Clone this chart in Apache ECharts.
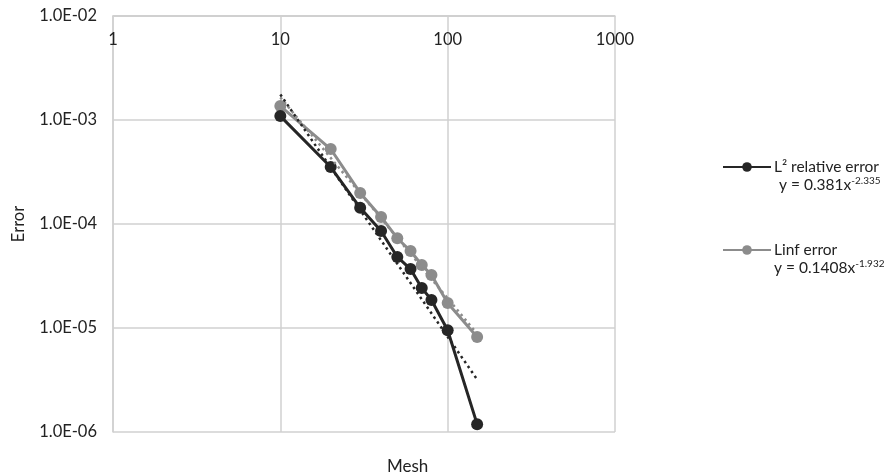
<!DOCTYPE html>
<html>
<head>
<meta charset="utf-8">
<script src="https://cdn.jsdelivr.net/npm/echarts@6/dist/echarts.min.js"></script>
<style>
html,body{margin:0;padding:0;background:#fff;}
#chart{width:893px;height:475px;}
</style>
</head>
<body>
<div id="chart"></div>
<script>
// Data
const meshValues = [10, 20, 30, 40, 50, 60, 70, 80, 100, 150];
const l2Error = [1.09e-3, 3.53e-4, 1.43e-4, 8.57e-5, 4.82e-5, 3.69e-5, 2.43e-5, 1.86e-5, 9.5e-6, 1.19e-6];
const linfError = [1.36e-3, 5.26e-4, 1.99e-4, 1.17e-4, 7.3e-5, 5.5e-5, 4.03e-5, 3.24e-5, 1.74e-5, 8.2e-6];
const trendMesh = [10, 150];
const l2Trend = [1.76e-3, 3.2e-6];
const linfTrend = [1.65e-3, 8.8e-6];
const xTickValues = [1, 10, 100, 1000];
const xTickLabels = ['1', '10', '100', '1000'];
const yTickValues = [1e-6, 1e-5, 1e-4, 1e-3, 1e-2];
const yTickLabels = ['1.0E-06', '1.0E-05', '1.0E-04', '1.0E-03', '1.0E-02'];
const seriesNames = ['L² relative error', 'Linf error'];
const equationText = ['y = 0.381x', 'y = 0.1408x'];
const equationExp = ['-2.335', '-1.932'];

const FONT = 'Lato';
const TXT = '#222222';
const BLACK = '#262626';
const GRAY = '#8c8c8c';

function pairs(xs, ys) { return xs.map((x, i) => [x, ys[i]]); }
function labelFor(values, labels, v) {
  for (let i = 0; i < values.length; i++) {
    if (Math.abs(Math.log10(v) - Math.log10(values[i])) < 1e-6) return labels[i];
  }
  return '';
}

const chart = echarts.init(document.getElementById('chart'));
chart.setOption({
  animation: false,
  backgroundColor: '#fff',
  textStyle: { fontFamily: FONT },
  grid: { left: 113, right: 278, top: 16, bottom: 43, containLabel: false },
  title: {
    text: 'Mesh', left: 387, top: 458, padding: 0,
    textStyle: { fontFamily: FONT, fontSize: 17, fontWeight: 'normal', color: TXT }
  },
  legend: {
    orient: 'vertical', left: 722, top: 141, itemGap: 31, padding: 0,
    itemWidth: 48, itemHeight: 12,
    data: seriesNames,
    formatter: function (name) {
      const i = seriesNames.indexOf(name);
      return '{sp| }\n{n|' + name + '}\n{e' + i + '|' + equationText[i] + '}{s|' + equationExp[i] + '}';
    },
    textStyle: {
      fontFamily: FONT, fontSize: 15.5, color: TXT, padding: [0, 0, 0, -2],
      rich: {
        sp: { fontSize: 15.5, lineHeight: 18 },
        n: { fontFamily: FONT, fontSize: 15.5, lineHeight: 18, color: TXT },
        e0: { fontFamily: FONT, fontSize: 15.5, lineHeight: 18, color: TXT, padding: [0, 0, 0, 5] },
        e1: { fontFamily: FONT, fontSize: 15.5, lineHeight: 18, color: TXT },
        s: { fontFamily: FONT, fontSize: 10, lineHeight: 11, color: TXT, verticalAlign: 'top' }
      }
    }
  },
  xAxis: {
    type: 'log', logBase: 10, min: 1, max: 1000,
    position: 'top',
    axisLine: { show: true, lineStyle: { color: '#d0d0d0', width: 1.5 } },
    axisTick: { show: false },
    axisLabel: {
      inside: true, margin: 15, fontFamily: FONT, fontSize: 16.5, color: TXT,
      formatter: v => labelFor(xTickValues, xTickLabels, v)
    },
    splitLine: { show: true, lineStyle: { color: '#d0d0d0', width: 1.5 } },
    minorTick: { show: false }
  },
  yAxis: {
    type: 'log', logBase: 10, min: 1e-6, max: 1e-2,
    name: 'Error', nameLocation: 'middle', nameGap: 86, nameRotate: 90,
    nameTextStyle: { fontFamily: FONT, fontSize: 16.5, color: TXT },
    axisLine: { show: true, lineStyle: { color: '#d0d0d0', width: 1.5 } },
    axisTick: { show: false },
    axisLabel: {
      margin: 16, fontFamily: FONT, fontSize: 16.5, color: TXT,
      formatter: v => labelFor(yTickValues, yTickLabels, v)
    },
    splitLine: { show: true, lineStyle: { color: '#d0d0d0', width: 1.5 } }
  },
  series: [
    {
      name: seriesNames[0], type: 'line', data: pairs(meshValues, l2Error),
      symbol: 'circle', symbolSize: 12,
      lineStyle: { color: BLACK, width: 3 },
      itemStyle: { color: BLACK }, z: 3
    },
    {
      name: seriesNames[1], type: 'line', data: pairs(meshValues, linfError),
      symbol: 'circle', symbolSize: 12,
      lineStyle: { color: GRAY, width: 3 },
      itemStyle: { color: GRAY }, z: 2
    },
    {
      name: 'L2 trend', type: 'line', data: pairs(trendMesh, l2Trend),
      symbol: 'none', silent: true,
      lineStyle: { color: BLACK, width: 2.5, type: [2.5, 3.5] }, z: 5
    },
    {
      name: 'Linf trend', type: 'line', data: pairs(trendMesh, linfTrend),
      symbol: 'none', silent: true,
      lineStyle: { color: GRAY, width: 2.5, type: [2.5, 3.5] }, z: 4
    }
  ]
});
</script>
</body>
</html>
